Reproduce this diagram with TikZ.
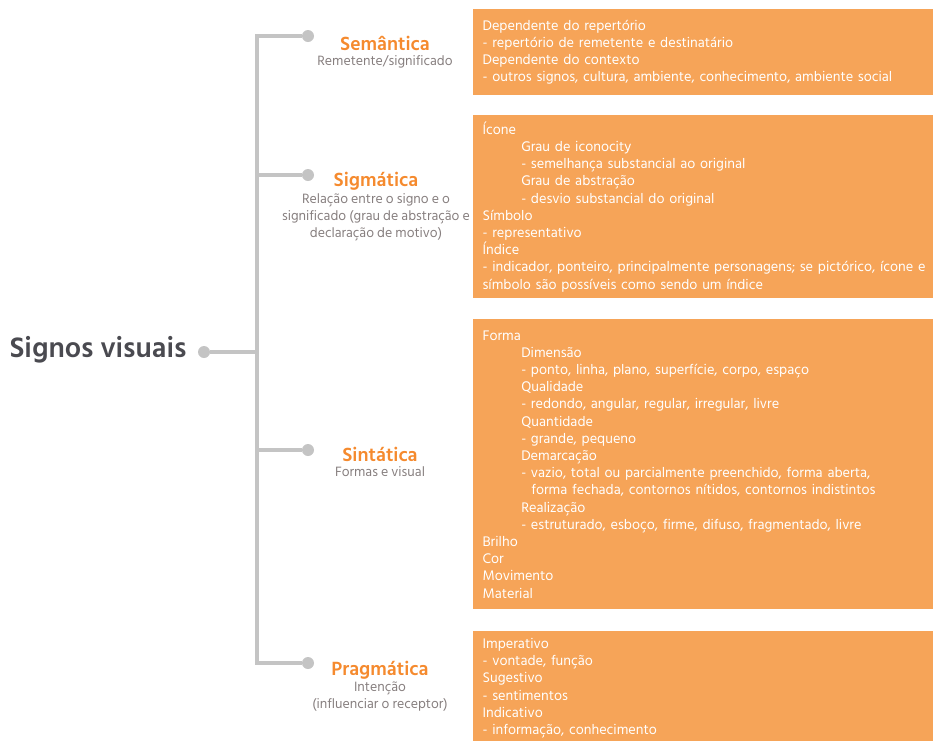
\documentclass[tikz,border=0pt]{standalone}
\usepackage{fontspec}
\setmainfont{Hind Siliguri}
\usepackage{tikz}
\usetikzlibrary{positioning}
\definecolor{boxorange}{RGB}{246,164,88}
\definecolor{titleorange}{RGB}{245,138,46}
\definecolor{stemgray}{RGB}{196,196,196}
\definecolor{notegray}{RGB}{135,127,127}
\definecolor{rootgray}{RGB}{74,74,80}
\newcommand{\ind}{\hspace*{29pt}}
\tikzset{
  catbox/.style={
    rectangle, fill=boxorange, draw=none, anchor=north west,
    minimum width=354pt, text width=340pt, align=left,
    inner xsep=7pt, inner ysep=0pt, text=white,
    font=\fontsize{10.7}{12.9}\selectfont
  },
  cattitle/.style={
    font=\fontsize{14.7}{16}\selectfont\bfseries, text=titleorange,
    inner sep=0pt, align=center
  },
  catnote/.style={
    font=\fontsize{10.4}{12.8}\selectfont, text=notegray,
    inner sep=0pt, align=center
  },
  dot/.style={circle, fill=stemgray, inner sep=0pt, minimum size=9pt},
  stem/.style={draw=stemgray, line width=2.4pt}
}

\begin{document}
\begin{tikzpicture}[x=0.75pt,y=-0.75pt]
  \useasboundingbox (0,0) rectangle (933,740);

  \node[font=\fontsize{21.7}{24}\selectfont\bfseries, text=rootgray, inner sep=0pt]
    (root) at (98,350) {Signos visuais};
  \node[dot] (rootdot) at (204,352) {};
  \coordinate (hub) at (257,352);

  \node[dot] (semdot) at (308,36) {};
  \node[dot] (sigdot) at (308,175) {};
  \node[dot] (sindot) at (308,450) {};
  \node[dot] (pragdot) at (308,663) {};

  \draw[stem] (rootdot) -- (hub);
  \draw[stem] (semdot) -- (semdot -| hub) -- (pragdot -| hub) -- (pragdot);
  \draw[stem] (sigdot) -- (sigdot -| hub);
  \draw[stem] (sindot) -- (sindot -| hub);

  \node[cattitle] (sem) at (385,43) {Semântica};
  \node[catnote] (semnote) at (385,62) {Remetente/significado};
  \node[cattitle] (sig) at (376,181) {Sigmática};
  \node[catnote] (signote) at (376,217)
    {Relação entre o signo e o\\significado (grau de abstração e\\declaração de motivo)};
  \node[cattitle] (sin) at (380,454) {Sintática};
  \node[catnote] (sinnote) at (380,472) {Formas e visual};
  \node[cattitle] (prag) at (380,670) {Pragmática};
  \node[catnote] (pragnote) at (380,697) {Intenção\\(influenciar o receptor)};

  \node[catbox, minimum height=64.5pt] (sembox) at (473,9)
    {Dependente do repertório\\
     - repertório de remetente e destinatário\\
     Dependente do contexto\\
     - outros signos, cultura, ambiente, conhecimento, ambiente social};
  \node[catbox, minimum height=137.25pt] (sigbox) at (473,115)
    {Ícone\\
     \ind Grau de iconocity\\
     \ind - semelhança substancial ao original\\
     \ind Grau de abstração\\
     \ind - desvio substancial do original\\
     Símbolo\\
     - representativo\\
     Índice\\
     - indicador, ponteiro, principalmente personagens; se pictórico, ícone e\\
     símbolo são possíveis como sendo um índice};
  \node[catbox, minimum height=217.5pt] (sinbox) at (473,319)
    {Forma\\
     \ind Dimensão\\
     \ind - ponto, linha, plano, superfície, corpo, espaço\\
     \ind Qualidade\\
     \ind - redondo, angular, regular, irregular, livre\\
     \ind Quantidade\\
     \ind - grande, pequeno\\
     \ind Demarcação\\
     \ind - vazio, total ou parcialmente preenchido, forma aberta,\\
     \ind\hspace*{4pt} forma fechada, contornos nítidos, contornos indistintos\\
     \ind Realização\\
     \ind - estruturado, esboço, firme, difuso, fragmentado, livre\\
     Brilho\\
     Cor\\
     Movimento\\
     Material};
  \node[catbox, minimum height=85.5pt] (pragbox) at (473,631)
    {Imperativo\\
     - vontade, função\\
     Sugestivo\\
     - sentimentos\\
     Indicativo\\
     - informação, conhecimento};
\end{tikzpicture}
\end{document}
